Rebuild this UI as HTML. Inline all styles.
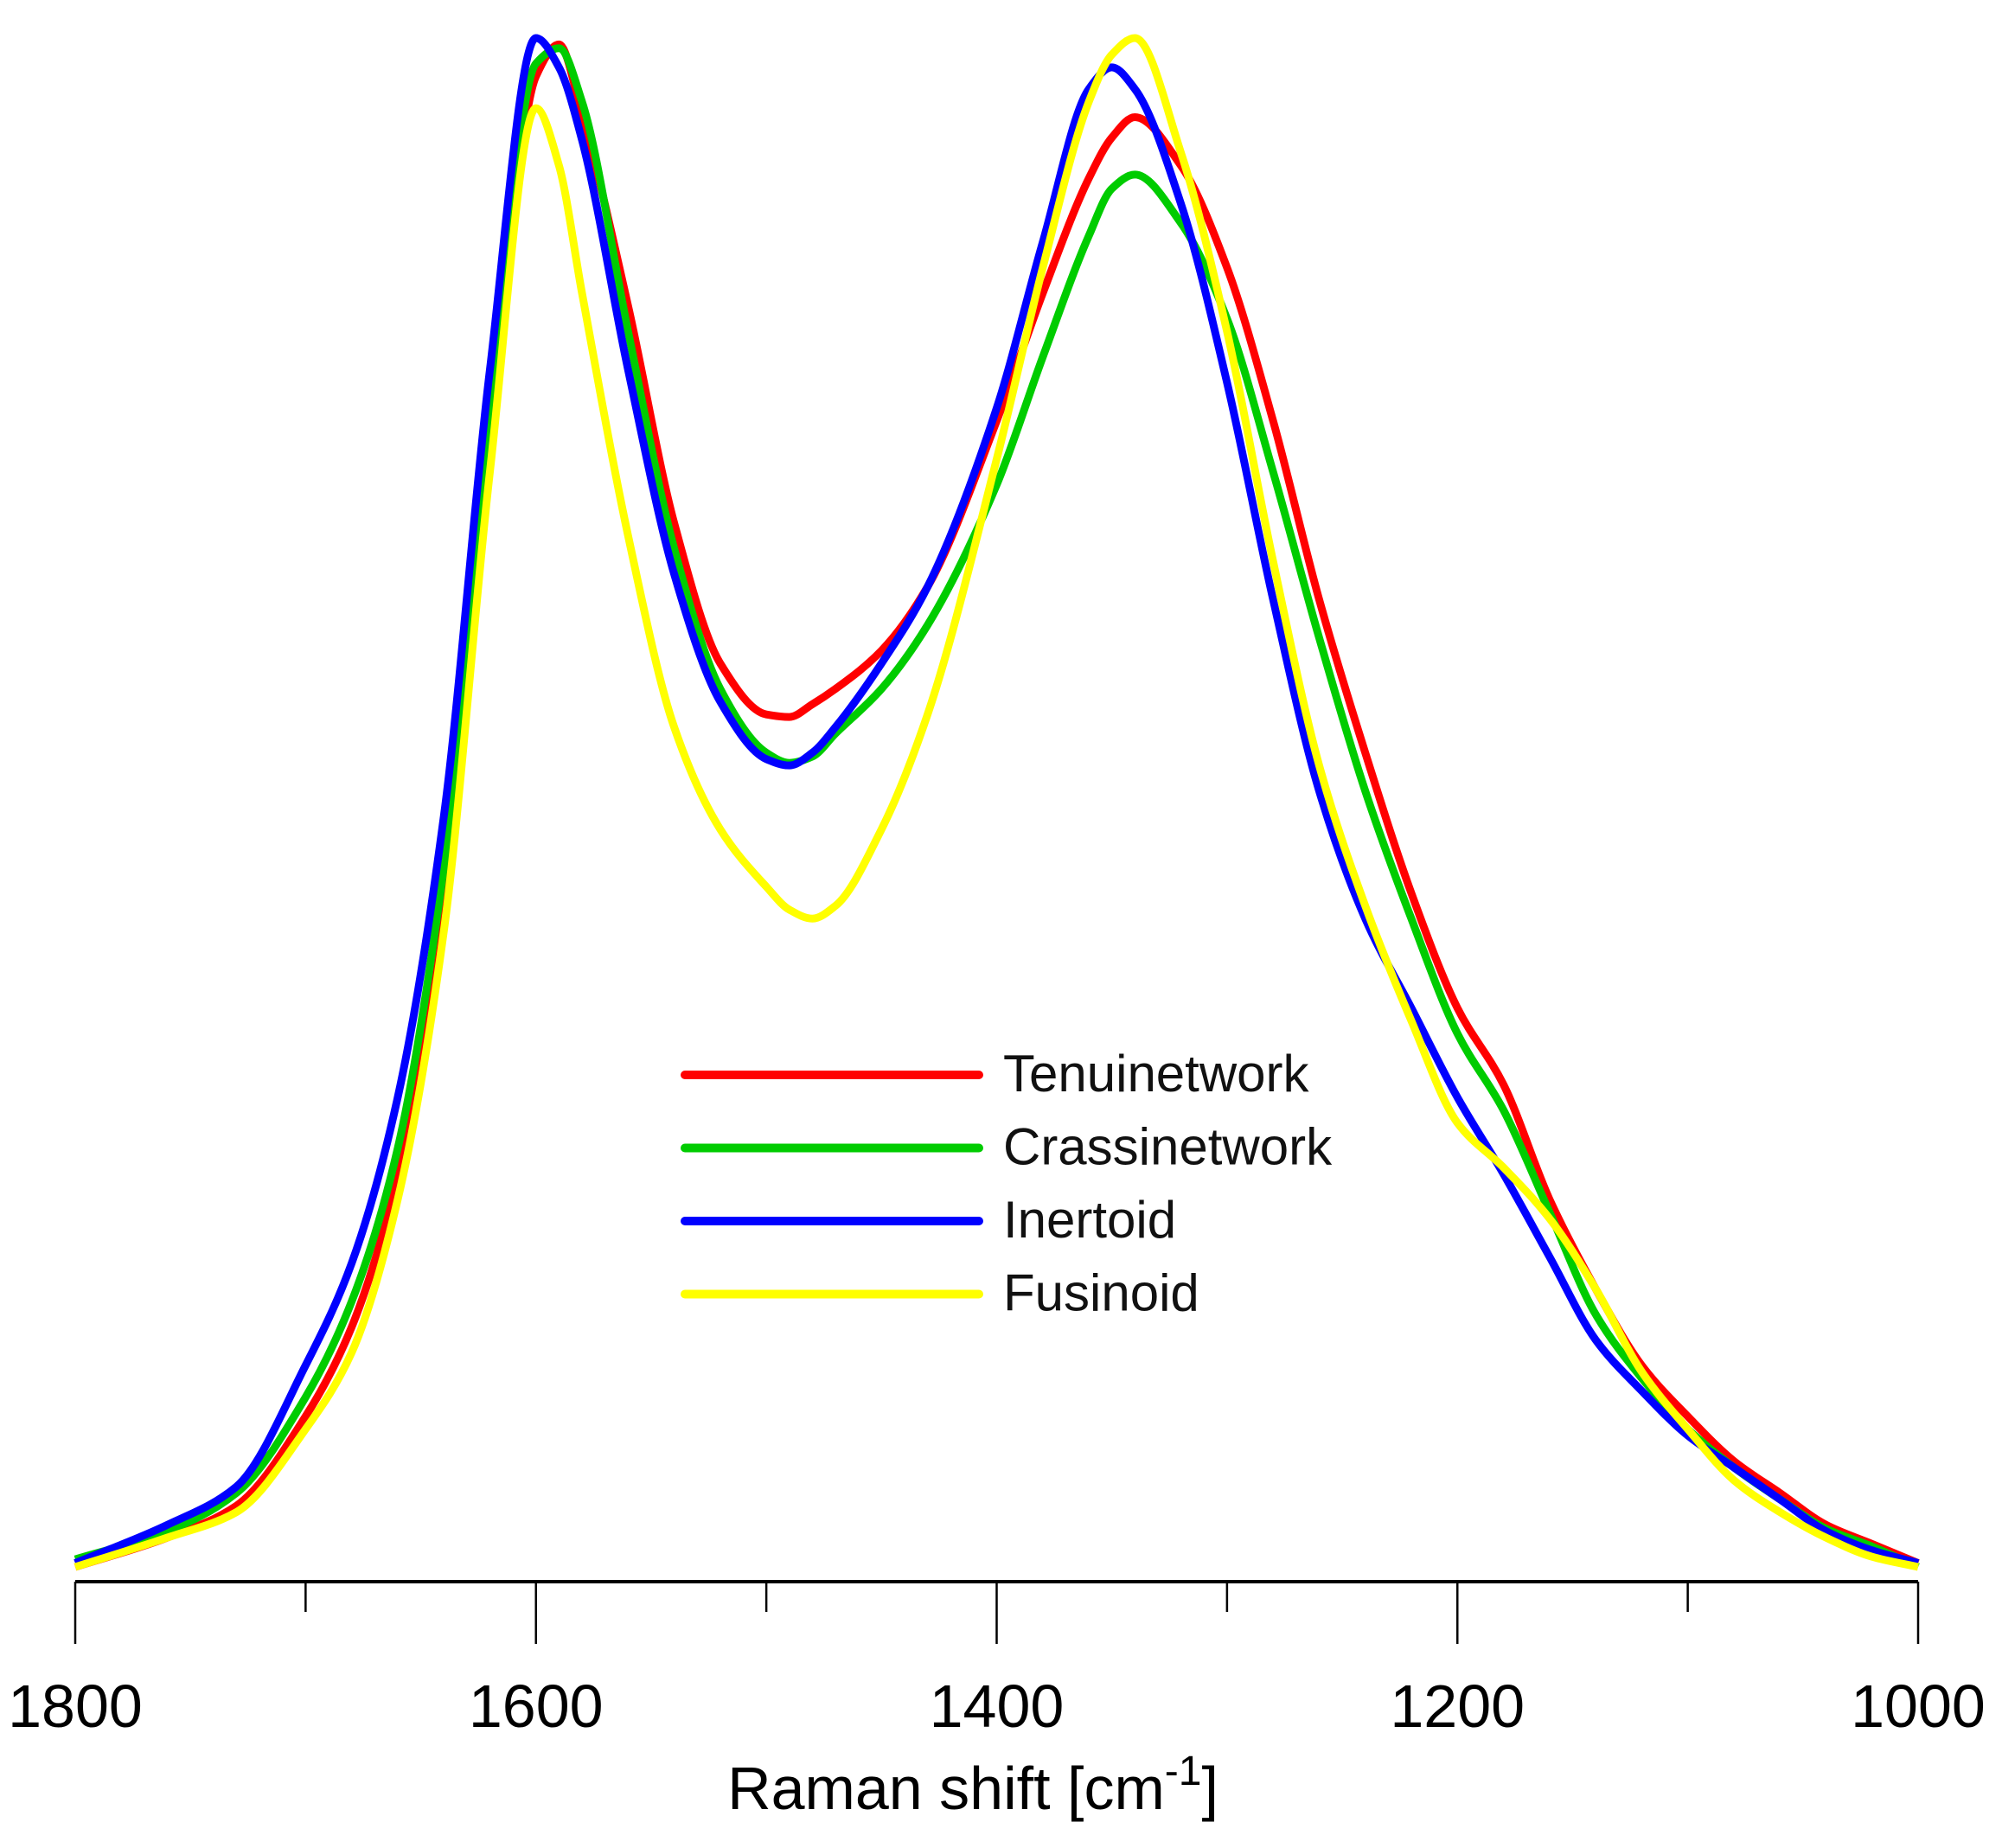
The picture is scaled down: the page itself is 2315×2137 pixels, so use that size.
<!DOCTYPE html>
<html><head><meta charset="utf-8"><style>
html,body{margin:0;padding:0;background:#fff;}
svg{display:block;font-family:"Liberation Sans",Arial,sans-serif;}
</style></head><body>
<svg id="chart" width="2315" height="2137" viewBox="0 0 2315 2137" xmlns="http://www.w3.org/2000/svg">
<g id="series"></g>
<g id="axis"></g>
<text x="1125" y="2092" font-size="70" text-anchor="middle" fill="#000">Raman shift [cm<tspan font-size="48" dy="-28">-1</tspan><tspan dy="28">]</tspan></text>
<g id="legend"></g>
</svg>
<script>
const wavenumbers=[1800,1760,1730,1700,1680,1660,1640,1620,1600,1590,1580,1560,1540,1520,1500,1490,1480,1470,1450,1430,1400,1380,1360,1350,1340,1320,1300,1280,1260,1240,1220,1200,1180,1160,1140,1120,1100,1080,1060,1040,1020,1000];
const tenuinetwork=[0,23,48,118,188,308,528,878,1168,1193,1138,988,818,708,668,666,676,688,718,768,898,998,1088,1120,1136,1098,1018,898,758,638,528,438,378,288,218,158,118,83,58,33,18,3];
const crassinetwork=[6,28,58,133,208,328,548,898,1178,1190,1148,968,798,688,638,630,635,653,688,738,848,948,1043,1080,1091,1053,978,858,728,608,508,418,358,278,198,148,108,78,53,30,16,0];
const inertoid=[3,33,63,158,238,368,588,938,1198,1175,1118,938,778,678,633,628,638,658,708,768,908,1038,1158,1175,1158,1068,928,758,608,508,438,368,308,243,178,138,103,78,53,28,13,3];
const fusinoid=[0,23,43,108,168,288,498,858,1143,1098,998,808,658,578,533,515,508,518,578,668,868,1018,1148,1185,1198,1108,968,788,628,518,428,348,313,273,218,153,108,68,43,23,8,0];
const seriesNames=["Tenuinetwork","Crassinetwork","Inertoid","Fusinoid"];
const seriesColors=["#ff0000","#00cc00","#0000ff","#ffff00"];
const majorTicks=[1800,1600,1400,1200,1000];
const minorTicks=[1700,1500,1300,1100];

const NS="http://www.w3.org/2000/svg";
const X0=87,X1=2218,Y0=1812,Y1=41;
const xs=w=>X0+(1800-w)*(X1-X0)/800;
const ys=v=>Y0-v*(Y0-Y1)/1200;
function mk(tag,attrs,parent){const e=document.createElementNS(NS,tag);for(const k in attrs)e.setAttribute(k,attrs[k]);parent.appendChild(e);return e;}
function monotonePath(pts){
  const n=pts.length,d=[],m=[];
  for(let i=0;i<n-1;i++)d.push((pts[i+1][1]-pts[i][1])/(pts[i+1][0]-pts[i][0]));
  m[0]=d[0];m[n-1]=d[n-2];
  for(let i=1;i<n-1;i++){
    if(d[i-1]*d[i]<=0)m[i]=0;
    else{const h0=pts[i][0]-pts[i-1][0],h1=pts[i+1][0]-pts[i][0];const w1=2*h1+h0,w2=h1+2*h0;m[i]=(w1+w2)/(w1/d[i-1]+w2/d[i]);}
  }
  let s=`M${pts[0][0]},${pts[0][1]}`;
  for(let i=0;i<n-1;i++){
    const h=(pts[i+1][0]-pts[i][0])/3;
    s+=` C${pts[i][0]+h},${pts[i][1]+m[i]*h} ${pts[i+1][0]-h},${pts[i+1][1]-m[i+1]*h} ${pts[i+1][0]},${pts[i+1][1]}`;
  }
  return s;
}
const data=[tenuinetwork,crassinetwork,inertoid,fusinoid];
const sg=document.getElementById('series');
data.forEach((vals,i)=>{
  const pts=wavenumbers.map((w,j)=>[xs(w),ys(vals[j])]);
  const p=mk('path',{d:monotonePath(pts),fill:'none',stroke:seriesColors[i],'stroke-width':9,'stroke-linejoin':'round'},sg);
  
  
});
const ag=document.getElementById('axis');
const al=mk('line',{x1:X0,x2:X1,y1:1829,y2:1829,stroke:'#000','stroke-width':4},ag);


majorTicks.forEach(t=>{
  const l=mk('line',{x1:xs(t),x2:xs(t),y1:1829,y2:1901,stroke:'#000','stroke-width':2.5},ag);
  
  
  const tx=mk('text',{x:xs(t),y:1997,'font-size':70,'text-anchor':'middle',fill:'#000'},ag);
  tx.textContent=t;
  
  
});
minorTicks.forEach(t=>{
  const l=mk('line',{x1:xs(t),x2:xs(t),y1:1829,y2:1864,stroke:'#000','stroke-width':2.5},ag);
  
  
});
const lg=document.getElementById('legend');
seriesNames.forEach((n,i)=>{
  const y=1243+i*84.5;
  const l=mk('line',{x1:792,x2:1132,y1:y,y2:y,stroke:seriesColors[i],'stroke-width':10,'stroke-linecap':'round'},lg);
  
  
  const t=mk('text',{x:1160,y:y+19,'font-size':60,fill:'#111'},lg);
  t.textContent=n;
  
  
});
</script>
</body></html>
